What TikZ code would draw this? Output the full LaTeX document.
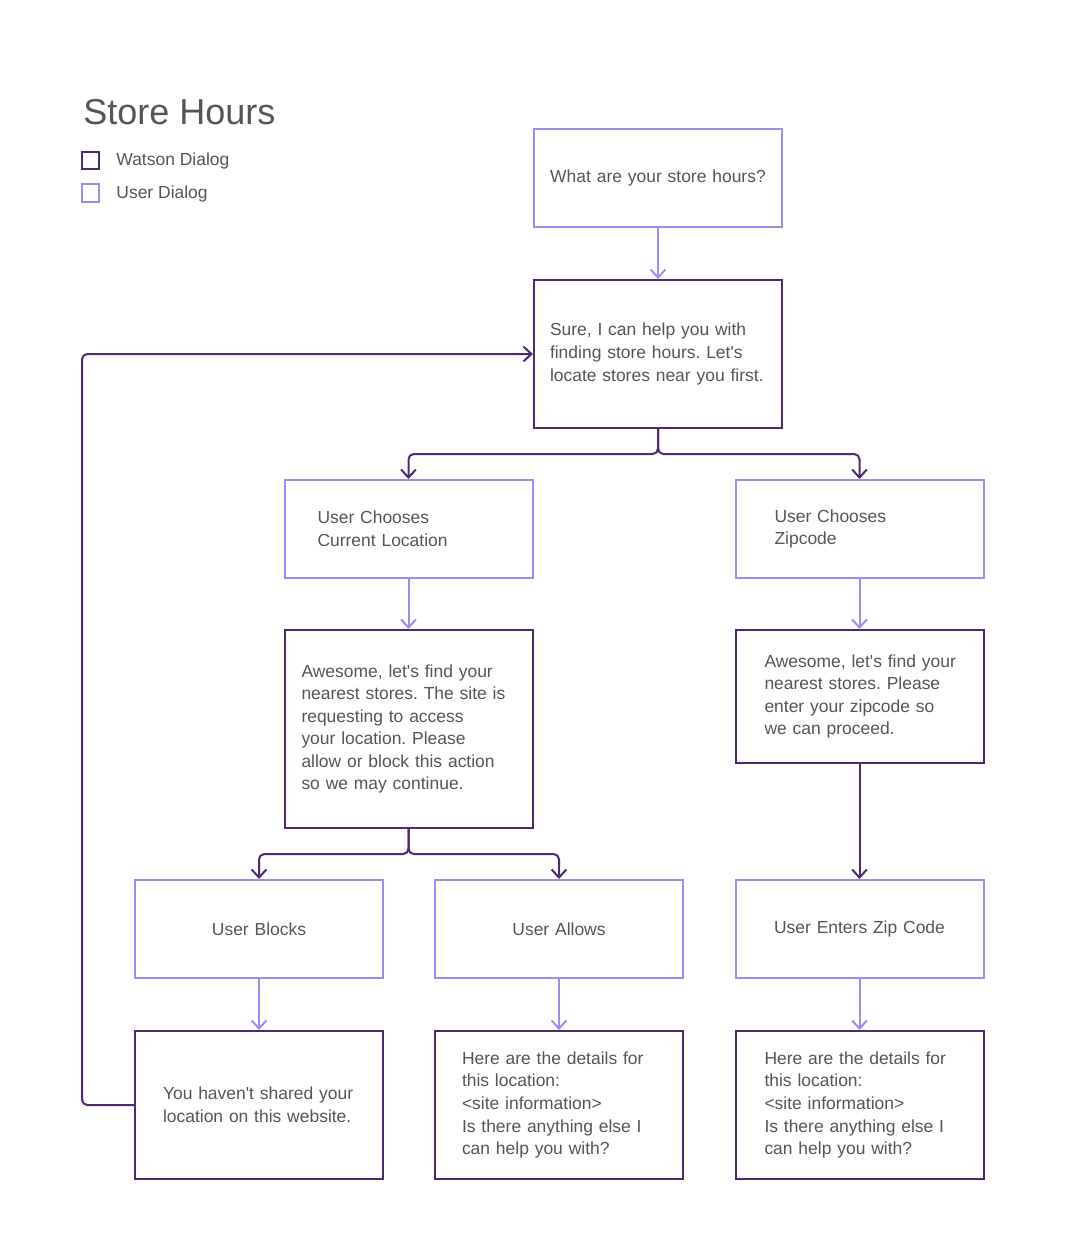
\documentclass[tikz,border=0pt]{standalone}
\usepackage{fontspec}
\setmainfont{Liberation Sans}
\usetikzlibrary{arrows.meta,positioning}
\definecolor{watson}{HTML}{4B2A6E}
\definecolor{user}{HTML}{9F8CF2}
\definecolor{txt}{HTML}{555555}
\frenchspacing
\newcommand\body{\fontsize{13.1}{16.9}\selectfont}
\newcommand\lpad[1]{\leftskip=#1\relax}
\newcommand\ap{\textquotesingle}
\begin{document}
\begin{tikzpicture}[x=0.75pt,y=-0.75pt,
  wbox/.style={draw=watson,line width=1.5pt,inner sep=0pt,text width=186pt,minimum height=#1,align=left,text=txt,font=\body},
  wbox/.default=73.5pt,
  ubox/.style={draw=user,line width=1.5pt,inner sep=0pt,text width=186pt,minimum height=#1,align=left,text=txt,font=\body},
  ubox/.default=73.5pt,
  wline/.style={draw=watson,line width=1.5pt,rounded corners=4pt,-{Straight Barb[length=6pt,width=11pt]}},
  uline/.style={draw=user,line width=1.5pt,-{Straight Barb[length=6pt,width=11pt]}},
  key/.style={line width=1.5pt,minimum size=13pt,inner sep=0pt},
  keytext/.style={inner sep=0pt,text=txt,font=\body}]
\useasboundingbox (0,0) rectangle (1083,1257);

\node[anchor=base west,inner sep=0pt,text=txt,font=\fontsize{27}{32}\selectfont] (title) at (83,124) {Store Hours};
\node[key,draw=watson] (wkey) at (90.5,160.5) {};
\node[keytext,right=12pt of wkey] (wkeytext) {Watson Dialog};
\node[key,draw=user] (ukey) at (90.5,193) {};
\node[keytext,right=12pt of ukey,yshift=-1pt] (ukeytext) {User Dialog};

\node[ubox,align=center] (hours) at (658,178) {What are your store hours?};
\node[wbox=111pt] (sure) at (658,354) {\lpad{12pt}Sure, I can help you with\\finding store hours. Let\ap s\\locate stores near you first.\par};

\node[ubox] (curloc) at (408.5,529) {\lpad{24.75pt}User Chooses\\Current Location\par};
\node[ubox] (zipch) at (859.5,529) {\lpad{29.25pt}User Chooses\\Zipcode\par};

\node[wbox=148.5pt] (awloc) at (408.5,729) {\lpad{12.75pt}Awesome, let\ap s find your\\nearest stores. The site is\\requesting to access\\your location. Please\\allow or block this action\\so we may continue.\par};
\node[wbox=99.75pt] (awzip) at (859.5,696.5) {\lpad{21.75pt}Awesome, let\ap s find your\\nearest stores. Please\\enter your zipcode so\\we can proceed.\par};

\node[ubox,align=center] (blocks) at (259,929) {User Blocks};
\node[ubox,align=center] (allows) at (559,929) {User Allows};
\node[ubox,align=center] (enters) at (859.5,929) {User Enters Zip Code};

\node[wbox=111pt] (noshare) at (259,1105) {\lpad{21pt}You haven\ap t shared your\\location on this website.\par};
\node[wbox=111pt] (details) at (559,1105) {\lpad{20.25pt}Here are the details for\\this location:\\<site information>\\Is there anything else I\\can help you with?\par};
\node[wbox=111pt] (zipdetails) at (859.5,1105) {\lpad{21.75pt}Here are the details for\\this location:\\<site information>\\Is there anything else I\\can help you with?\par};

\draw[uline] (hours) -- (sure);
\draw[wline] (sure.south) -- ++(0,25) -| (curloc.north);
\draw[wline] (sure.south) -- ++(0,25) -| (zipch.north);
\draw[uline] (curloc) -- (awloc);
\draw[uline] (zipch) -- (awzip);
\draw[wline] (awloc.south) -- ++(0,25) -| (blocks.north);
\draw[wline] (awloc.south) -- ++(0,25) -| (allows.north);
\draw[wline] (awzip) -- (enters);
\draw[uline] (blocks) -- (noshare);
\draw[uline] (allows) -- (details);
\draw[uline] (enters) -- (zipdetails);
\draw[wline] (noshare.west) -- ++(-52,0) |- (sure.west);
\end{tikzpicture}
\end{document}
